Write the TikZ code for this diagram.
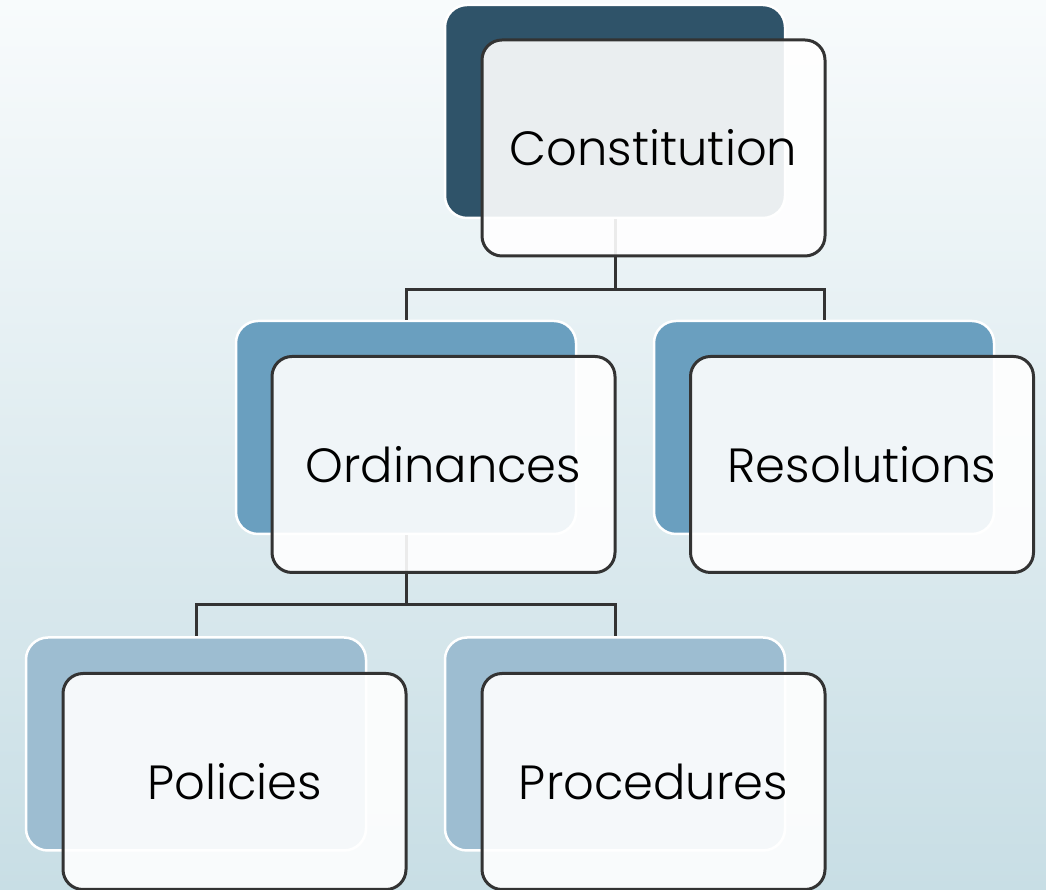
\documentclass[tikz,border=0pt]{standalone}
\usepackage{fontspec}
\setmainfont{Poppins}[UprightFont=* Light]
\begin{document}
\definecolor{bgtop}{HTML}{F8FBFC}
\definecolor{bgbot}{HTML}{C8DEE5}
\definecolor{lvlone}{HTML}{2F5369}
\definecolor{lvltwo}{HTML}{6A9FBF}
\definecolor{lvlthree}{HTML}{9DBDD1}
\definecolor{edge}{HTML}{333333}
\begin{tikzpicture}[x=1pt,y=1pt,
  backbox/.style={draw=white, line width=2.5pt, rounded corners=22pt,
    minimum width=340pt, minimum height=213pt, inner sep=0pt},
  frontbox/.style={draw=edge, line width=3pt, rounded corners=20pt,
    fill=white, fill opacity=0.9, text opacity=1,
    minimum width=343pt, minimum height=216pt, inner sep=0pt,
    font=\fontsize{48}{56}\selectfont},
  link/.style={draw=edge, line width=3pt}
]
% background
\shade[top color=bgtop, bottom color=bgbot] (0,0) rectangle (1046,890);
\useasboundingbox (0,0) rectangle (1046,890);

% back panels
\node[backbox, fill=lvlone]   (conB) at (615,778.5) {};
\node[backbox, fill=lvltwo]   (ordB) at (406,462.5) {};
\node[backbox, fill=lvltwo]   (resB) at (824,462.5) {};
\node[backbox, fill=lvlthree] (polB) at (196,146) {};
\node[backbox, fill=lvlthree] (proB) at (615,146) {};

% connectors
\draw[link] (conB.south) -- ++(0,-70) -| (ordB.north);
\draw[link] (conB.south) -- ++(0,-70) -| (resB.north);
\draw[link] (ordB.south) -- ++(0,-69) -| (polB.north);
\draw[link] (ordB.south) -- ++(0,-69) -| (proB.north);

% front panels
\node[frontbox] (con) at (653.5,742) {Constitution};
\node[frontbox] (ord) at (443.5,425.5) {Ordinances};
\node[frontbox] (res) at (862,425.5) {Resolutions};
\node[frontbox] (pol) at (234.5,108.5) {Policies};
\node[frontbox] (pro) at (653.5,108.5) {Procedures};
\end{tikzpicture}
\end{document}
